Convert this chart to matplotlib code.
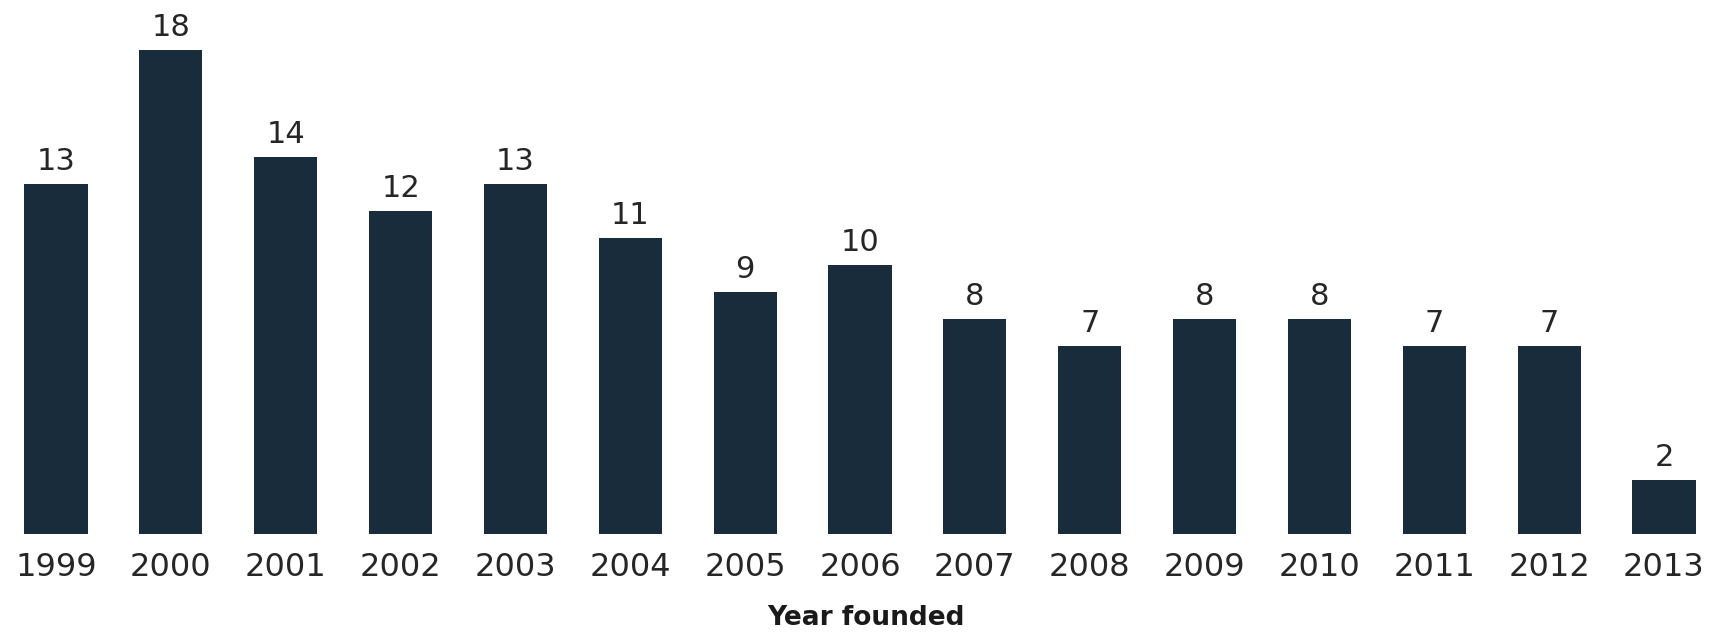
import matplotlib
matplotlib.use("Agg")
import matplotlib.pyplot as plt

years = ["1999", "2000", "2001", "2002", "2003", "2004", "2005", "2006",
         "2007", "2008", "2009", "2010", "2011", "2012", "2013"]
counts = [13, 18, 14, 12, 13, 11, 9, 10, 8, 7, 8, 8, 7, 7, 2]

bar_color = "#182c3b"
text_color = "#262626"
plt.rcParams["font.family"] = ["DejaVu Sans"]

fig = plt.figure(figsize=(17.19, 6.35), dpi=100)
ax = fig.add_axes([0, 0.159, 1, 0.805])

x = range(len(years))
bars = ax.bar(x, counts, width=0.55, color=bar_color)

for b, v in zip(bars, counts):
    ax.annotate(str(v), (b.get_x() + b.get_width() / 2, v),
                xytext=(0, 10), textcoords="offset points",
                ha="center", va="baseline", fontsize=22, color=text_color)

ax.set_xlim(-0.4876, 14.479)
ax.set_ylim(0, 19)
ax.set_xticks(list(x))
ax.set_xticklabels(years, fontsize=23, color=text_color)
ax.tick_params(axis="x", length=0, pad=13)
ax.set_yticks([])
for s in ax.spines.values():
    s.set_visible(False)

fig.text(0.504, 0.0157, "Year founded", ha="center", va="baseline",
         fontsize=19, fontweight="bold", color="#1a1a1a")

fig.savefig("out.png", dpi=100, facecolor="white")
